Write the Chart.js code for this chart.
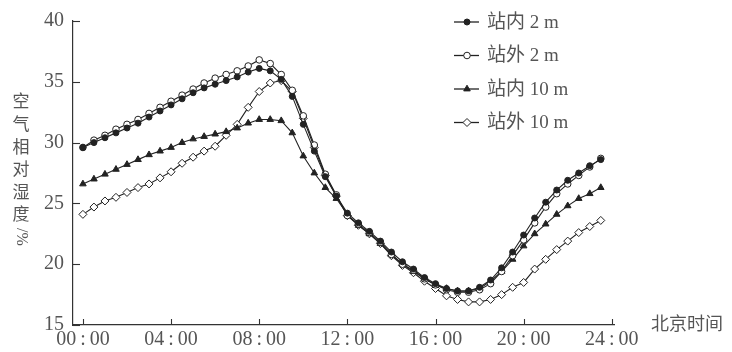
<!DOCTYPE html>
<html><head><meta charset="utf-8">
<script src="https://cdn.jsdelivr.net/npm/chart.js@4"></script>
<style>html,body{margin:0;padding:0;background:#fff;}#wrap{width:732px;height:352px;}</style>
</head><body><div id="wrap"><canvas id="c" width="732" height="352"></canvas></div>
<script>
// ---- data ----
const hours = [0,0.5,1,1.5,2,2.5,3,3.5,4,4.5,5,5.5,6,6.5,7,7.5,8,8.5,9,9.5,10,10.5,11,11.5,12,12.5,13,13.5,14,14.5,15,15.5,16,16.5,17,17.5,18,18.5,19,19.5,20,20.5,21,21.5,22,22.5,23,23.5];
const seriesNames = ['站内 2 m','站外 2 m','站内 10 m','站外 10 m'];
const inside2m  = [29.6,30.0,30.4,30.8,31.2,31.6,32.1,32.6,33.1,33.6,34.1,34.5,34.8,35.1,35.4,35.8,36.1,
                   35.9,35.2,33.8,31.5,29.3,27.2,25.6,24.2,23.4,22.7,21.9,21.0,20.2,19.6,18.9,
                   18.4,18.0,17.8,17.8,18.1,18.7,19.7,21.0,22.4,23.8,25.1,26.1,26.9,27.5,28.1,28.6];
const outside2m = [29.6,30.2,30.6,31.1,31.5,31.9,32.4,32.9,33.4,33.9,34.4,34.9,35.3,35.6,35.9,36.3,36.8,
                   36.5,35.6,34.3,32.2,29.8,27.4,25.7,24.0,23.3,22.6,21.8,20.8,20.0,19.5,18.8,
                   18.3,17.9,17.7,17.7,17.9,18.4,19.4,20.7,22.0,23.4,24.7,25.8,26.6,27.3,28.0,28.7];
const inside10m = [26.6,27.0,27.4,27.8,28.2,28.6,29.0,29.3,29.6,30.0,30.3,30.5,30.7,30.9,31.2,31.6,31.9,
                   31.9,31.8,30.8,28.9,27.5,26.3,25.4,24.1,23.2,22.5,21.7,20.8,20.0,19.4,18.8,
                   18.3,18.0,17.8,17.8,18.0,18.6,19.4,20.4,21.5,22.5,23.3,24.1,24.8,25.4,25.8,26.3];
const outside10m= [24.1,24.7,25.2,25.5,25.9,26.3,26.6,27.1,27.6,28.3,28.8,29.3,29.7,30.6,31.5,32.9,34.2,
                   34.9,35.1,34.2,32.0,29.6,27.3,25.6,24.0,23.2,22.5,21.7,20.7,19.9,19.3,18.6,
                   18.0,17.4,17.1,16.9,16.9,17.1,17.5,18.1,18.5,19.6,20.4,21.2,21.9,22.6,23.1,23.6];
const xTickValues = [0,4,8,12,16,20,24];
const xTickLabels = ['00:00','04:00','08:00','12:00','16:00','20:00','24:00'];
const yTickValues = [15,20,25,30,35,40];
const yTitleChars = ['空','气','相','对','湿','度'];
const yTitleUnit = '/%';
const xTitle = '北京时间';

const INK = '#222';
const TXT = '#555';
const SERIF = '"Liberation Serif", "Times New Roman", serif';
const CJK = '"Noto Sans CJK SC", sans-serif';

function pts(vals){ return hours.map((h,i)=>({x:h, y:vals[i]})); }

const styles = [
  {pointStyle:'circle',  radius:3,   bg:INK,    bw:1},
  {pointStyle:'circle',  radius:3.3, bg:'#fff', bw:1},
  {pointStyle:'triangle',radius:3.8, bg:INK,    bw:1},
  {pointStyle:'rectRot', radius:4,   bg:'#fff', bw:1}
];
const allVals = [inside2m, outside2m, inside10m, outside10m];

const datasets = allVals.map((v,i)=>({
  label: seriesNames[i],
  data: pts(v),
  borderColor: INK,
  borderWidth: 1.1,
  backgroundColor: styles[i].bg,
  pointStyle: styles[i].pointStyle,
  pointRadius: styles[i].radius,
  pointBackgroundColor: styles[i].bg,
  pointBorderColor: INK,
  pointBorderWidth: styles[i].bw,
  tension: 0,
  fill: false
}));

const decorPlugin = {
  id:'decor',
  afterDraw(chart){
    const ctx = chart.ctx;
    const xs = chart.scales.x, ys = chart.scales.y;
    const ca = chart.chartArea;
    ctx.save();
    // inward tick marks
    ctx.strokeStyle = '#333'; ctx.lineWidth = 1.1;
    yTickValues.forEach(v=>{
      const y = Math.round(ys.getPixelForValue(v))+0.5;
      ctx.beginPath(); ctx.moveTo(ca.left, y); ctx.lineTo(ca.left+7, y); ctx.stroke();
    });
    xTickValues.forEach(v=>{
      const x = Math.round(xs.getPixelForValue(v))+0.5;
      ctx.beginPath(); ctx.moveTo(x, ca.bottom); ctx.lineTo(x, ca.bottom-6); ctx.stroke();
    });
    // y title (vertical)
    ctx.fillStyle = TXT;
    ctx.font = '17px ' + CJK;
    ctx.textAlign = 'center'; ctx.textBaseline = 'middle';
    yTitleChars.forEach((ch,i)=>{ ctx.fillText(ch, 21, 101 + i*22.6); });
    ctx.save();
    ctx.translate(21, 237);
    ctx.rotate(Math.PI/2);
    ctx.font = '16px ' + SERIF;
    ctx.fillText(yTitleUnit, 0, 0);
    ctx.restore();
    // x title
    ctx.font = '18px ' + CJK;
    ctx.textAlign = 'left';
    ctx.fillText(xTitle, 651, 323);
    // legend
    chart.data.datasets.forEach((ds,i)=>{
      const y = 22 + i*33.5;
      ctx.strokeStyle = INK; ctx.lineWidth = 1.3;
      ctx.beginPath(); ctx.moveTo(454, y); ctx.lineTo(479, y); ctx.stroke();
      ctx.fillStyle = ds.pointBackgroundColor; ctx.strokeStyle = INK; ctx.lineWidth = 1;
      Chart.helpers.drawPoint(ctx, {pointStyle: ds.pointStyle, radius: ds.pointRadius, rotation:0, borderWidth:1}, 467, y);
      ctx.fillStyle = TXT;
      ctx.font = '19px ' + SERIF + ', ' + CJK;
      ctx.textAlign = 'left'; ctx.textBaseline = 'middle';
      ctx.fillText(ds.label, 487, y+1);
    });
    ctx.restore();
  }
};

new Chart(document.getElementById('c'), {
  type:'line',
  data:{datasets},
  options:{
    responsive:false,
    animation:false,
    devicePixelRatio:1,
    layout:{padding:{top:20, right:118, left:0, bottom:0}},
    plugins:{legend:{display:false}, tooltip:{enabled:false}},
    scales:{
      x:{
        type:'linear', min:-0.45, max:24.1,
        afterBuildTicks(scale){ scale.ticks = xTickValues.map(v=>({value:v})); },
        afterFit(scale){ scale.height = 27; },
        ticks:{
          autoSkip:false, maxRotation:0, padding:3,
          color:TXT, font:{family:SERIF, size:20},
          callback:(v)=>{ const i = xTickValues.indexOf(v); return i>=0 ? xTickLabels[i].replace(':','\u2009:\u2009') : ''; }
        },
        grid:{display:false, drawTicks:false},
        border:{display:true, color:'#333', width:1.2}
      },
      y:{
        min:15, max:40,
        afterBuildTicks(scale){ scale.ticks = yTickValues.map(v=>({value:v})); },
        afterFit(scale){ scale.width = 73; },
        ticks:{padding:9, color:TXT, font:{family:SERIF, size:20}},
        grid:{display:false, drawTicks:false},
        border:{display:true, color:'#333', width:1.2}
      }
    }
  },
  plugins:[decorPlugin]
});
</script>
</body></html>
